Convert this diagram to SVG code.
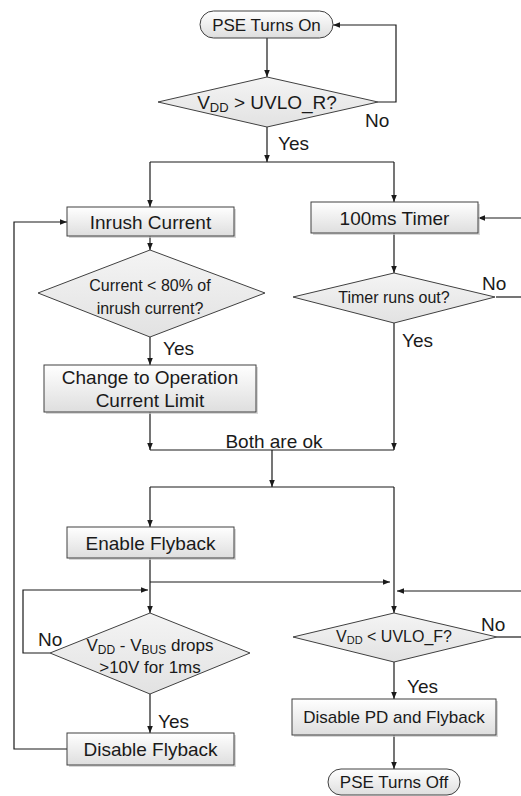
<svg xmlns="http://www.w3.org/2000/svg" width="521" height="796" viewBox="0 0 521 796">
<defs>
<linearGradient id="gBox" x1="0" y1="0" x2="0" y2="1">
<stop offset="0" stop-color="#ffffff"/><stop offset="1" stop-color="#dedede"/>
</linearGradient>
<linearGradient id="gDia" x1="0" y1="0" x2="0" y2="1">
<stop offset="0" stop-color="#f4f4f4"/><stop offset="1" stop-color="#e2e2e2"/>
</linearGradient>
<marker id="ah" viewBox="0 0 10 10" refX="10" refY="5" markerWidth="7" markerHeight="7" markerUnits="userSpaceOnUse" orient="auto">
<path d="M0,1 L10,5 L0,9 z" fill="#1a1a1a"/>
</marker>
<style>
text{font-family:"Liberation Sans",Arial,sans-serif;fill:#1a1a1a;}
.t19{font-size:19px;}
.t17{font-size:17px;}
.t16{font-size:16px;}
.box{fill:url(#gBox);stroke:#404040;stroke-width:1;}
.sh{fill:#c8c8c8;opacity:0.7;}
.dia{fill:url(#gDia);stroke:#404040;stroke-width:1;}
.term{fill:url(#gBox);stroke:#404040;stroke-width:1;}
.c{fill:none;stroke:#1a1a1a;stroke-width:1.2;}
.a{marker-end:url(#ah);}
</style>
</defs>

<g id="connectors">
<path class="c a" d="M267,38 V77"/>
<path class="c a" d="M378,102 H396 V25 H333"/>
<path class="c a" d="M267,127 V162"/>
<path class="c" d="M150,162 H394"/>
<path class="c a" d="M150,162 V207"/>
<path class="c a" d="M394,162 V202"/>
<path class="c a" d="M521,218 H478"/>
<path class="c a" d="M150,236 V250"/>
<path class="c a" d="M394,233 V273"/>
<path class="c" d="M496,297 H521"/>
<path class="c a" d="M150,337 V365"/>
<path class="c a" d="M150,412 V450"/>
<path class="c a" d="M394,323 V450"/>
<path class="c" d="M150,450 H394"/>
<path class="c a" d="M272,450 V487"/>
<path class="c" d="M150,487 H394"/>
<path class="c a" d="M150,487 V527"/>
<path class="c a" d="M394,487 V613"/>
<path class="c a" d="M150,558 V613"/>
<path class="c a" d="M150,582 H390"/>
<path class="c a" d="M521,591 H397"/>
<path class="c a" d="M50,653 H23 V590 H148"/>
<path class="c a" d="M150,694 V733"/>
<path class="c a" d="M67,749 H14 V222 H67"/>
<path class="c" d="M497,637 H521"/>
<path class="c a" d="M394,662 V699"/>
<path class="c a" d="M394,735 V769"/>
</g>

<g id="labels">
<text class="t19" x="365" y="127">No</text>
<text class="t19" x="278" y="150">Yes</text>
<text class="t19" x="482" y="290">No</text>
<text class="t19" x="402" y="347">Yes</text>
<text class="t19" x="163" y="355">Yes</text>
<text class="t19" x="274" y="448" text-anchor="middle">Both are ok</text>
<text class="t19" x="38" y="646">No</text>
<text class="t19" x="158" y="728">Yes</text>
<text class="t19" x="481" y="631">No</text>
<text class="t19" x="407" y="693">Yes</text>
</g>

<g id="pse-on">
<rect class="term" x="200" y="11" width="133" height="27" rx="13.5"/>
<text class="t17" x="266.5" y="30.5" text-anchor="middle">PSE Turns On</text>
</g>

<g id="check-uvlo-r">
<polygon class="dia" points="158,102 267,77 378,102 267,127"/>
<text class="t19" x="267" y="108.5" text-anchor="middle">V<tspan font-size="13" dy="3">DD</tspan><tspan dy="-3"> &gt; UVLO_R?</tspan></text>
</g>

<g id="inrush">
<rect class="sh" x="69" y="209" width="167" height="29"/>
<rect class="box" x="67" y="207" width="167" height="29"/>
<text class="t19" x="150.5" y="228.5" text-anchor="middle">Inrush Current</text>
</g>

<g id="timer">
<rect class="sh" x="313" y="204" width="167" height="31"/>
<rect class="box" x="311" y="202" width="167" height="31"/>
<text class="t19" x="394.5" y="224.5" text-anchor="middle">100ms Timer</text>
</g>

<g id="check-current">
<polygon class="dia" points="38,293 150,250 265,293 150,337"/>
<text class="t16" x="150" y="290.5" text-anchor="middle">Current &lt; 80% of</text>
<text class="t16" x="150" y="313.5" text-anchor="middle">inrush current?</text>
</g>

<g id="check-timer">
<polygon class="dia" points="293,297 394,273 495,297 394,323"/>
<text class="t16" x="394" y="303" text-anchor="middle">Timer runs out?</text>
</g>

<g id="change-limit">
<rect class="sh" x="46" y="367" width="212" height="47"/>
<rect class="box" x="44" y="365" width="212" height="47"/>
<text class="t19" x="150" y="384" text-anchor="middle">Change to Operation</text>
<text class="t19" x="150" y="407" text-anchor="middle">Current Limit</text>
</g>

<g id="enable-flyback">
<rect class="sh" x="69" y="529" width="167" height="31"/>
<rect class="box" x="67" y="527" width="167" height="31"/>
<text class="t19" x="150.5" y="549.5" text-anchor="middle">Enable Flyback</text>
</g>

<g id="check-vbus">
<polygon class="dia" points="50,653 150,613 250,653 150,694"/>
<text class="t17" x="150" y="651" text-anchor="middle">V<tspan font-size="12" dy="3">DD</tspan><tspan dy="-3"> - V</tspan><tspan font-size="12" dy="3">BUS</tspan><tspan dy="-3"> drops</tspan></text>
<text class="t17" x="150" y="673" text-anchor="middle">&gt;10V for 1ms</text>
</g>

<g id="disable-flyback">
<rect class="sh" x="69" y="735" width="167" height="32"/>
<rect class="box" x="67" y="733" width="167" height="32"/>
<text class="t19" x="150.5" y="756" text-anchor="middle">Disable Flyback</text>
</g>

<g id="check-uvlo-f">
<polygon class="dia" points="293,637 394,613 497,637 394,662"/>
<text class="t16" x="394" y="642" text-anchor="middle">V<tspan font-size="11" dy="2">DD</tspan><tspan dy="-2"> &lt; UVLO_F?</tspan></text>
</g>

<g id="disable-pd">
<rect class="sh" x="294" y="701" width="204" height="36"/>
<rect class="box" x="292" y="699" width="204" height="36"/>
<text class="t17" x="394" y="723" text-anchor="middle">Disable PD and Flyback</text>
</g>

<g id="pse-off">
<rect class="term" x="328" y="769" width="132" height="26" rx="13"/>
<text class="t17" x="394" y="788" text-anchor="middle">PSE Turns Off</text>
</g>
</svg>
